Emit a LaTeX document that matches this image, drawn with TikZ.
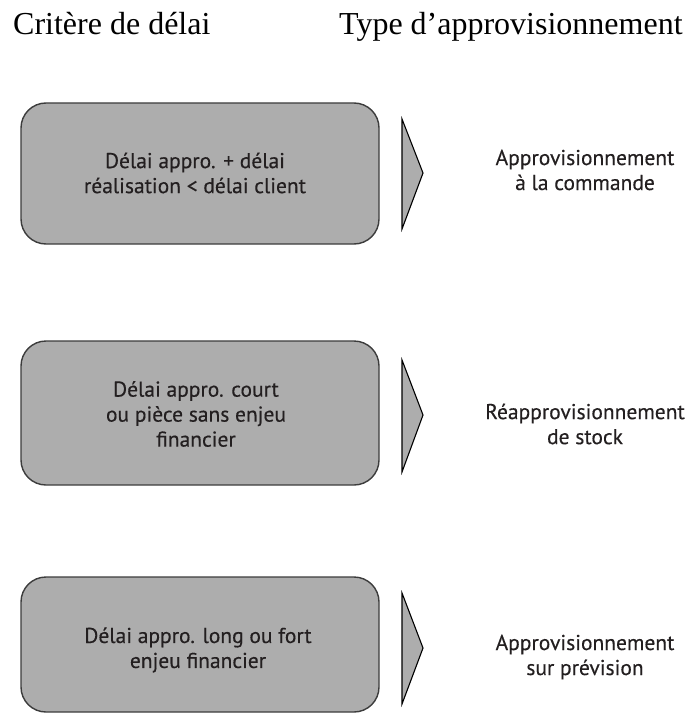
\documentclass[tikz,border=0pt]{standalone}
\usepackage{fontspec}
\setmainfont{Liberation Serif}
\newfontfamily\boxfont[FakeBold=0.35]{PT Sans}
\definecolor{boxgray}{HTML}{ADADAD}
\definecolor{edgegray}{HTML}{3C3C3C}
\definecolor{inkdark}{HTML}{231F20}
\tikzset{
  x=1pt, y=-1pt,
  critbox/.style={draw=edgegray, line width=1.4pt, fill=boxgray, rounded corners=25pt},
  chevron/.style={draw=black, line width=1.1pt, fill=boxgray, line join=miter},
  boxtext/.style={font=\boxfont\fontsize{21.5}{25}\selectfont, text=inkdark, align=center},
  heading/.style={font=\fontsize{32}{38}\selectfont, text=black, anchor=base west, inner sep=0pt},
}
\begin{document}
\begin{tikzpicture}
\useasboundingbox (0,0) rectangle (687,714);

% column headings
\node[heading] (hcrit) at (13,35) {Critère de délai};
\node[heading] (htype) at (339,35) {Type d’approvisionnement};

% row 1
\draw[critbox] (21,103) rectangle (379,244);
\node[boxtext] (c1) at (195,173) {Délai appro. + délai\\réalisation < délai client};
\draw[chevron] (402,119) -- (423,173) -- (402,229) -- cycle;
\node[boxtext] (t1) at (585,170) {Approvisionnement\\à la commande};

% row 2
\draw[critbox] (21,341) rectangle (379,485);
\node[boxtext] (c2) at (196,414) {Délai appro. court\\ou pièce sans enjeu\\financier};
\draw[chevron] (402,360) -- (423,415) -- (402,472) -- cycle;
\node[boxtext] (t2) at (585,424) {Réapprovisionnement\\de stock};

% row 3
\draw[critbox] (21,577) rectangle (379,712);
\node[boxtext] (c3) at (198,650) {Délai appro. long ou fort\\enjeu financier};
\draw[chevron] (402,593) -- (423,648) -- (402,704) -- cycle;
\node[boxtext] (t3) at (585,657) {Approvisionnement\\sur prévision};
\end{tikzpicture}
\end{document}
